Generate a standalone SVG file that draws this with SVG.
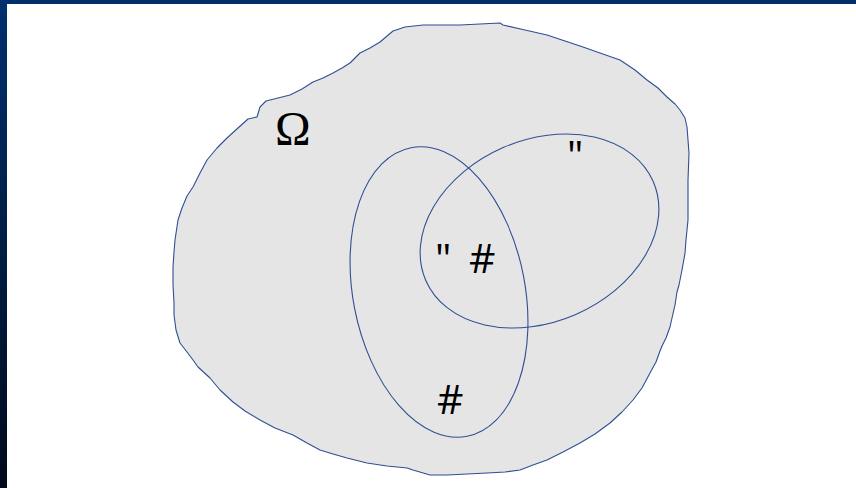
<svg xmlns="http://www.w3.org/2000/svg" width="856" height="488" viewBox="0 0 856 488">
<defs>
<linearGradient id="side" x1="0" y1="0" x2="0" y2="1">
<stop offset="0" stop-color="#00306e"/>
<stop offset="1" stop-color="#000a1a"/>
</linearGradient>
<style>
.outline{stroke:#2f4f94;stroke-width:1.1;stroke-linejoin:round}
.set{fill:none;stroke:#2f4f94;stroke-width:1.1}
.lbl{font-family:"Open Sans","Liberation Sans",Arial,sans-serif;font-size:41px;fill:#000}
.omega{font-family:"Liberation Serif","Times New Roman",serif;font-size:48px;fill:#000}
</style>
</defs>
<rect x="0" y="0" width="856" height="488" fill="#ffffff"/>
<rect x="0" y="0" width="856" height="4" fill="#002f6b"/>
<rect x="0" y="0" width="7" height="488" fill="url(#side)"/>
<g id="omega-set">
<path class="outline" fill="#e5e5e5" d="M393,31 L405,27 L423,25 L460,25 L500,23 L503,25 L525,30 L547,35 L565,41 L583,47 L600,53 L620,60 L635,70 L647,80 L658,88 L667,97 L675,104 L680,110 L685,118 L687,127 L688,140 L689,153 L688,180 L688,220 L686,240 L685,253 L682,270 L679,285 L677,292 L675,305 L672,318 L670,327 L666,338 L662,346 L660,351 L656,362 L650,373 L642,388 L633,400 L622,412 L610,423 L595,434 L580,443 L563,452 L547,460 L533,465 L520,470 L505,472 L487,473 L467,474 L447,475 L430,475 L413,470 L407,468 L387,466 L367,463 L347,458 L333,454 L320,450 L307,443 L293,435 L275,428 L260,420 L245,411 L233,402 L220,390 L210,378 L198,367 L193,360 L187,352 L180,343 L176,330 L174,315 L174,303 L173,285 L173,267 L174,252 L175,240 L178,220 L182,208 L187,196 L193,187 L200,173 L207,160 L217,148 L227,138 L238,128 L248,119 L257,117 L260,107 L266,101 L278,98 L290,95 L302,89 L313,82 L323,78 L333,73 L342,68 L350,63 L360,53 L370,48 L380,42 Z"/>
<text class="omega" x="275" y="145">Ω</text>
</g>
<g id="set-A">
<ellipse class="set" cx="439" cy="292" rx="86" ry="147" transform="rotate(-11 439 292)"/>
<text class="lbl" x="437" y="414">#</text>
</g>
<g id="set-B">
<ellipse class="set" cx="539.5" cy="231" rx="124" ry="91" transform="rotate(-23.5 539.5 231)"/>
<text class="lbl" x="567" y="170">"</text>
</g>
<g id="intersection">
<text class="lbl" x="435" y="273">"<tspan x="469">#</tspan></text>
</g>
</svg>
